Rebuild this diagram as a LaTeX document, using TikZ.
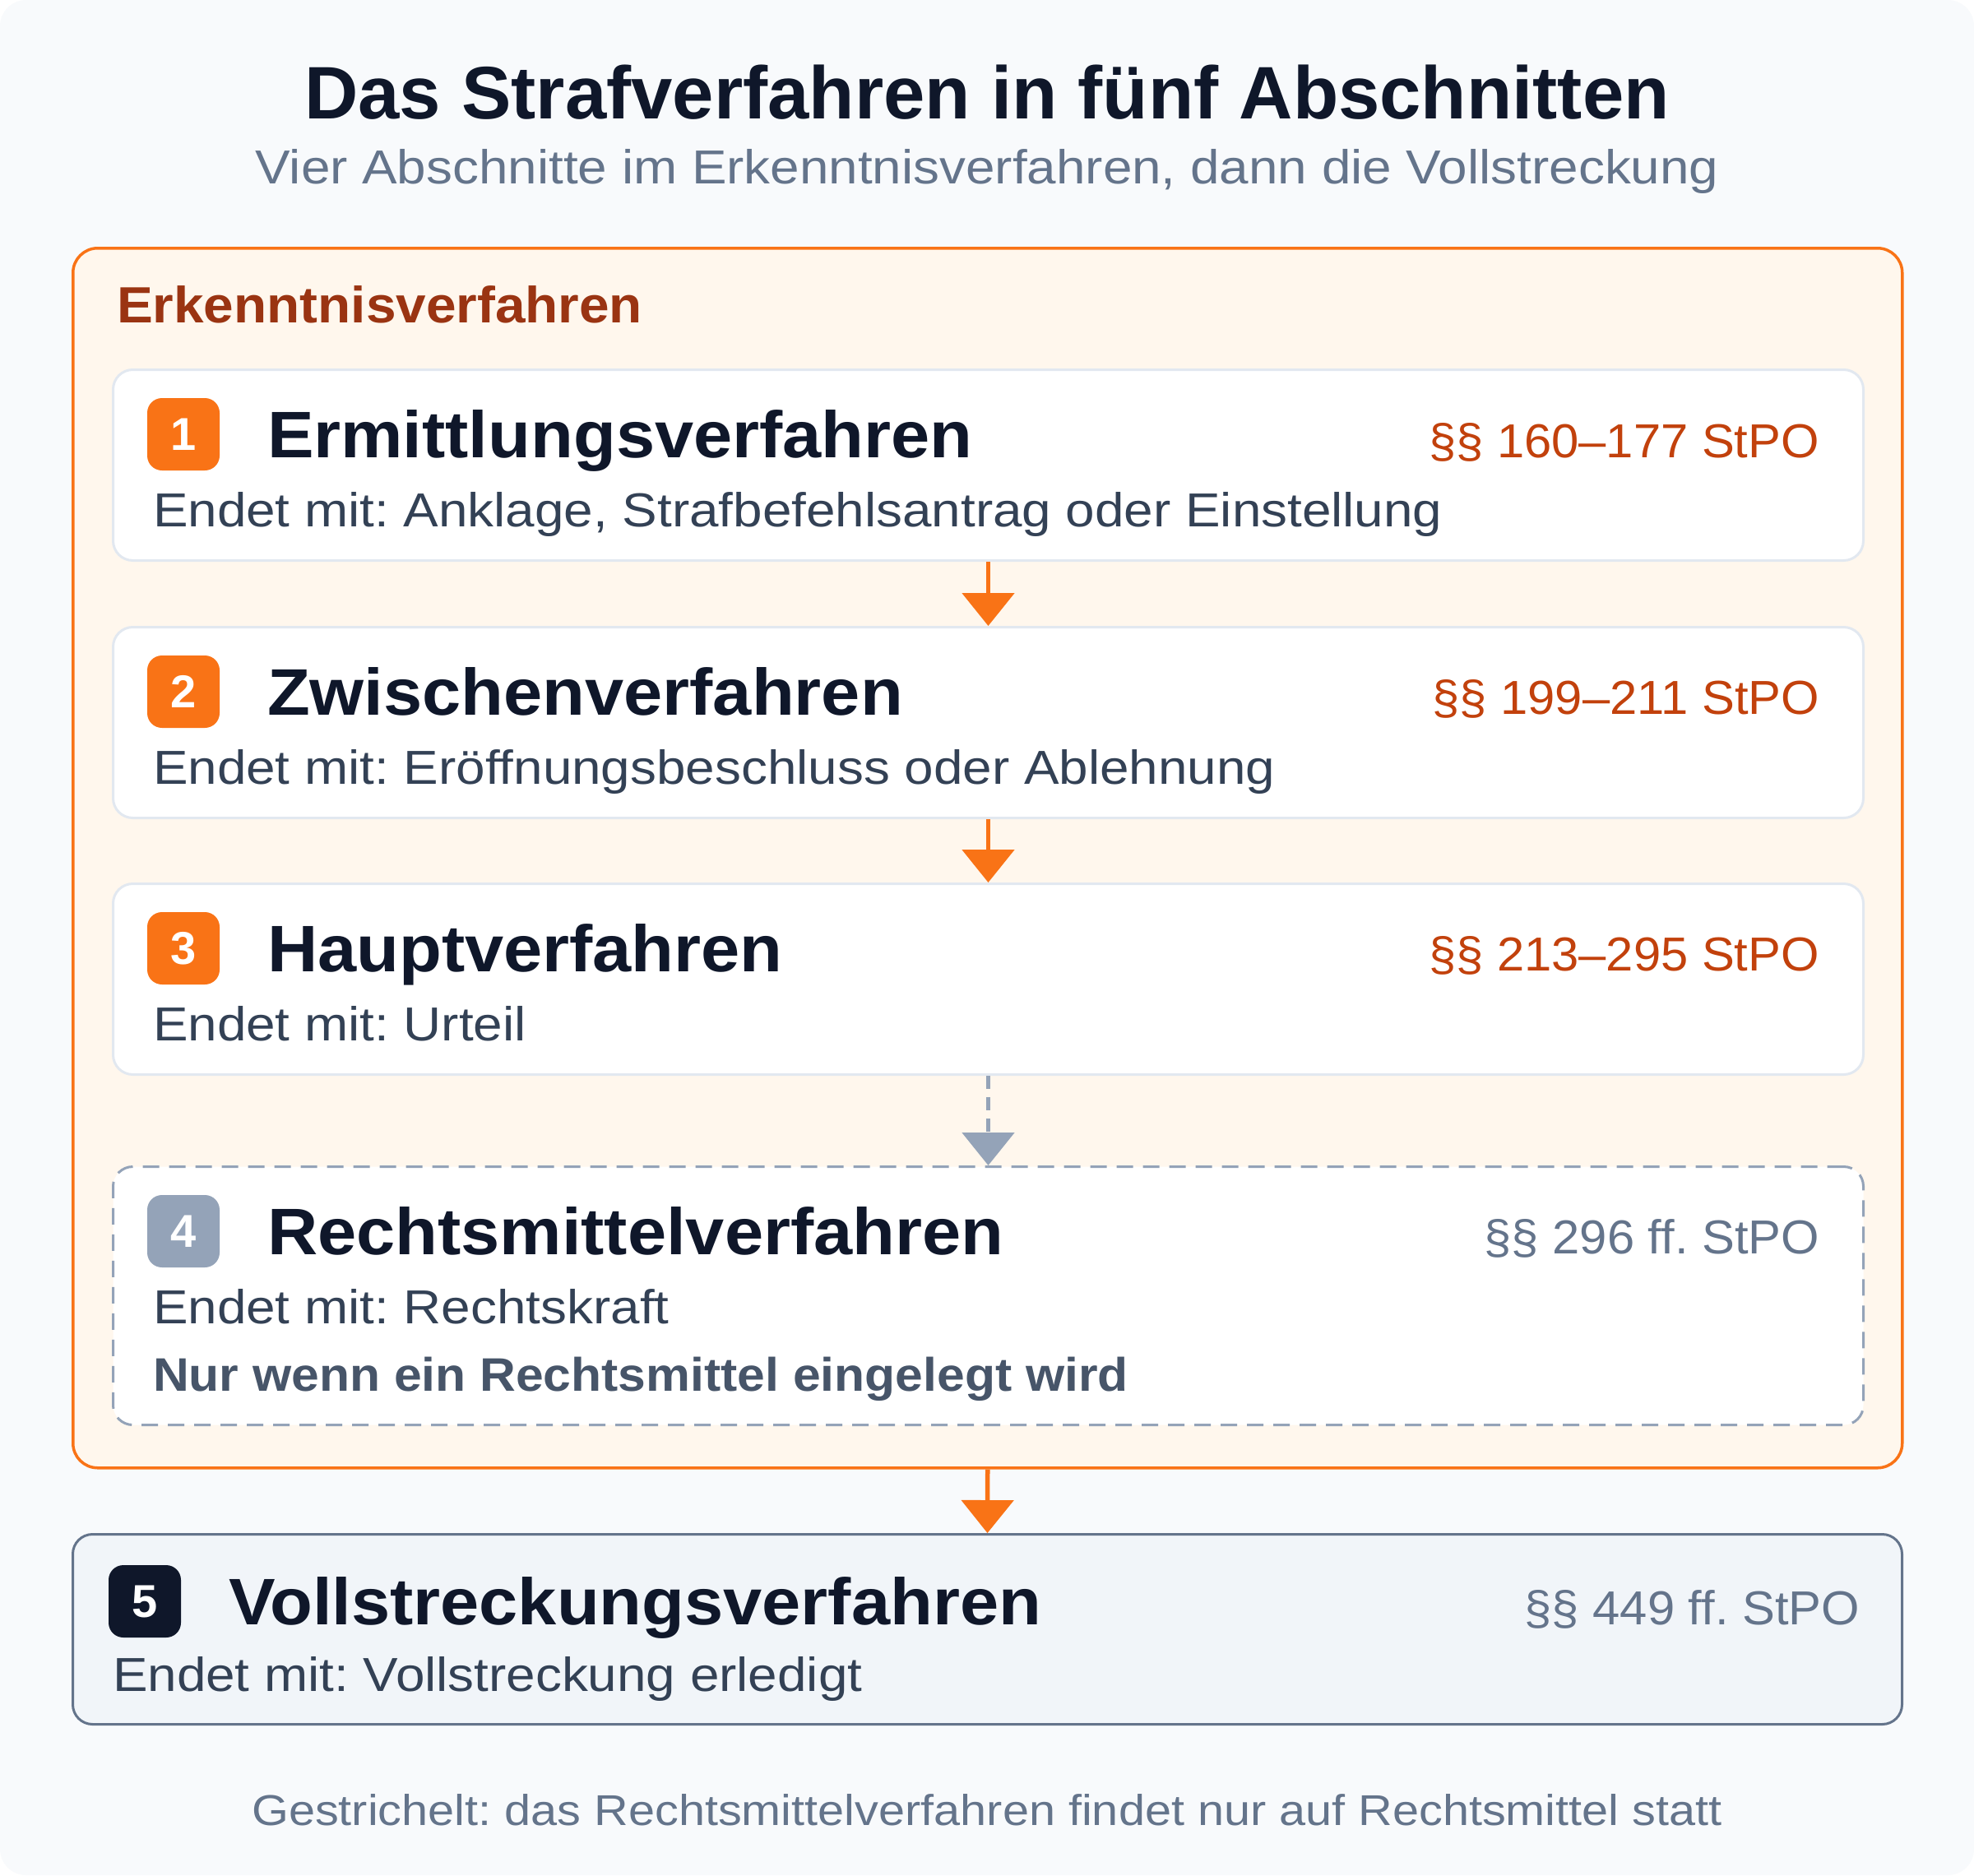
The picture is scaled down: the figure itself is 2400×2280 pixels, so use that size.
\documentclass[tikz,border=0pt]{standalone}
\usepackage{fontspec}
\setmainfont{Liberation Sans}
\newfontfamily\regf{Liberation Sans}[FakeStretch=1.10]
\newfontfamily\reff{Liberation Sans}[FakeStretch=1.03]
\newfontfamily\boldw{Liberation Sans}[FakeStretch=1.06]
\usetikzlibrary{arrows.meta}
\definecolor{bgc}{HTML}{F8FAFC}
\definecolor{orng}{HTML}{F97316}
\definecolor{orngfill}{HTML}{FFF7ED}
\definecolor{orngdark}{HTML}{9A3412}
\definecolor{orngref}{HTML}{C2410C}
\definecolor{cardline}{HTML}{E2E8F0}
\definecolor{slateA}{HTML}{0F172A}
\definecolor{slateB}{HTML}{334155}
\definecolor{slateC}{HTML}{64748B}
\definecolor{slateD}{HTML}{94A3B8}
\definecolor{slateE}{HTML}{475569}
\definecolor{slateF}{HTML}{F1F5F9}
\newcommand{\fsz}[1]{\fontsize{#1pt}{#1pt}\selectfont}
\frenchspacing
\begin{document}
\frenchspacing
\begin{tikzpicture}[x=1pt,y=-1pt,
  txt/.style={inner sep=0pt,outer sep=0pt},
  card/.style={draw=cardline,line width=3pt,fill=white,rounded corners=24pt,minimum width=2128pt,minimum height=232pt,anchor=north west,inner sep=0pt},
  badge/.style={minimum size=88pt,inner sep=0pt,rounded corners=18pt,text=white,font=\fsz{56}\bfseries},
  ctitle/.style={txt,anchor=base west,text=slateA,font=\boldw\fsz{80}\bfseries},
  cdesc/.style={txt,anchor=base west,text=slateB,font=\regf\fsz{58}},
  cref/.style={txt,anchor=base east,text=orngref,font=\reff\fsz{58}},
  arr/.style={draw=orng,line width=5.5pt,-{Triangle[width=63pt,length=40pt]}},
  darr/.style={draw=slateD,line width=5.5pt,dash pattern=on 16pt off 10pt,-{Triangle[width=63pt,length=40pt]}},
]
\useasboundingbox (0,0) rectangle (2400,2280);
\fill[white] (0,0) rectangle (2400,2280);
\fill[bgc,rounded corners=32pt] (0,0) rectangle (2400,2280);

% title
\node[txt,anchor=base,text=slateA,font=\fsz{90.5}\bfseries] (title) at (1200,145) {Das Strafverfahren in fünf Abschnitten};
\node[txt,anchor=base,text=slateC,font=\regf\fsz{58}] (subtitle) at (1200,223) {Vier Abschnitte im Erkenntnisverfahren, dann die Vollstreckung};

% container
\node[draw=orng,line width=3.5pt,fill=orngfill,rounded corners=30pt,minimum width=2224pt,minimum height=1483pt,anchor=north west,inner sep=0pt] (erk) at (87,300) {};
\node[txt,anchor=base west,text=orngdark,font=\boldw\fsz{62}\bfseries] (erklabel) at (142,392) {Erkenntnisverfahren};

% card 1
\node[card] (c1) at (136,448) {};
\node[badge,fill=orng] (b1) at (223,528) {1};
\node[ctitle] (t1) at (325,556) {Ermittlungsverfahren};
\node[cdesc] (d1) at (186,640) {Endet mit: Anklage, Strafbefehlsantrag oder Einstellung};
\node[cref] (r1) at (2212,556) {§§ 160–177 StPO};

% card 2
\node[card] (c2) at (136,761) {};
\node[badge,fill=orng] (b2) at (223,841) {2};
\node[ctitle] (t2) at (325,869) {Zwischenverfahren};
\node[cdesc] (d2) at (186,953) {Endet mit: Eröffnungsbeschluss oder Ablehnung};
\node[cref] (r2) at (2212,868) {§§ 199–211 StPO};

% card 3
\node[card] (c3) at (136,1073) {};
\node[badge,fill=orng] (b3) at (223,1153) {3};
\node[ctitle] (t3) at (325,1181) {Hauptverfahren};
\node[cdesc] (d3) at (186,1265) {Endet mit: Urteil};
\node[cref] (r3) at (2212,1180) {§§ 213–295 StPO};

% card 4 (dashed)
\node[card,draw=slateD,dash pattern=on 20pt off 12pt,minimum height=314pt] (c4) at (136,1417) {};
\node[badge,fill=slateD] (b4) at (223,1497) {4};
\node[ctitle] (t4) at (325,1525) {Rechtsmittelverfahren};
\node[cdesc] (d4) at (186,1609) {Endet mit: Rechtskraft};
\node[cdesc,text=slateE,font=\boldw\fsz{57.2}\bfseries] (n4) at (186,1691) {Nur wenn ein Rechtsmittel eingelegt wird};
\node[cref,text=slateC] (r4) at (2212,1524) {§§ 296 ff. StPO};

% card 5
\node[card,draw=slateC,fill=slateF,minimum width=2224pt,minimum height=231pt] (c5) at (87,1864) {};
\node[badge,fill=slateA] (b5) at (176,1947) {5};
\node[ctitle] (t5) at (278,1975) {Vollstreckungsverfahren};
\node[cdesc] (d5) at (137,2056) {Endet mit: Vollstreckung erledigt};
\node[cref,text=slateC] (r5) at (2261,1975) {§§ 449 ff. StPO};

% arrows
\draw[arr] (c1.south) -- (c2.north);
\draw[arr] (c2.south) -- (c3.north);
\draw[darr] (c3.south) -- (c4.north);
\draw[arr] (erk.south) -- (c5.north);

% footer
\node[txt,anchor=base,text=slateC,font=\regf\fsz{52.4}] (footer) at (1200,2219) {Gestrichelt: das Rechtsmittelverfahren findet nur auf Rechtsmittel statt};
\end{tikzpicture}
\end{document}
